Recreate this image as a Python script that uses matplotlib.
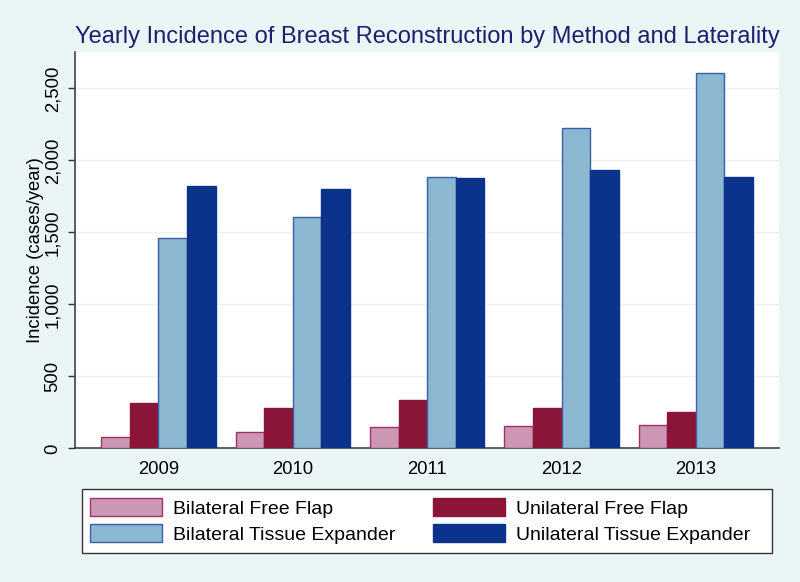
import numpy as np
import matplotlib.pyplot as plt
from matplotlib.ticker import FuncFormatter

plt.rcParams['font.family'] = ['Liberation Sans', 'DejaVu Sans']

years = ['2009', '2010', '2011', '2012', '2013']
series = ['Bilateral Free Flap', 'Unilateral Free Flap',
          'Bilateral Tissue Expander', 'Unilateral Tissue Expander']
bilat_flap = [82, 116, 147, 154, 162]
unilat_flap = [315, 278, 338, 278, 255]
bilat_te = [1462, 1608, 1884, 2222, 2610]
unilat_te = [1823, 1803, 1875, 1934, 1888]
values = [bilat_flap, unilat_flap, bilat_te, unilat_te]

fills = ['#CB97B4', '#8A1538', '#8BB7D0', '#0B338C']
edges = ['#A6305E', '#8A1538', '#3A5DA8', '#0B338C']

bg = '#EAF6F5'
fig = plt.figure(figsize=(8, 5.82), dpi=100, facecolor=bg)
ax = fig.add_axes([0.094, 0.2294, 0.880, 0.6813])
ax.set_facecolor('white')

x = np.arange(len(years))
w = 0.2125
bars = []
for i, (vals, fc, ec) in enumerate(zip(values, fills, edges)):
    b = ax.bar(x + (i - 1.5) * w, vals, width=w, color=fc, edgecolor=ec,
               linewidth=1.0, label=series[i], zorder=3)
    bars.append(b)

ax.set_xlim(-0.62, 4.62)
ax.set_ylim(0, 2753)
ax.set_yticks([0, 500, 1000, 1500, 2000, 2500])
ax.yaxis.set_major_formatter(FuncFormatter(lambda v, p: f'{int(v):,}'))
ax.set_xticks(x)
ax.set_xticklabels(years)
ax.tick_params(axis='x', length=0, pad=9, labelsize=13.3)
ax.tick_params(axis='y', length=5, width=1, color='#333333', pad=5,
               labelsize=13.3, labelrotation=90)
for lab in ax.get_yticklabels():
    lab.set_va('center')

ax.grid(axis='y', color='#E6F3F2', linewidth=0.9, zorder=0)
for s in ['top', 'right']:
    ax.spines[s].set_visible(False)
for s in ['left', 'bottom']:
    ax.spines[s].set_color('#333333')
    ax.spines[s].set_linewidth(1.1)

ax.set_ylabel('Incidence (cases/year)', fontsize=13.3, labelpad=0)

fig.text(0.534, 0.936, 'Yearly Incidence of Breast Reconstruction by Method and Laterality',
         ha='center', va='center', fontsize=17.0, color='#1A2270')

# legend box drawn separately so its width matches the reference
box = plt.Rectangle((0.1025, 0.0498), 0.8625, 0.1100, transform=fig.transFigure,
                    facecolor='white', edgecolor='#333333', linewidth=1.0, zorder=1)
fig.patches.append(box)

order = [0, 2, 1, 3]
leg = fig.legend([bars[i] for i in order], [series[i] for i in order],
                 loc='center left', bbox_to_anchor=(0.1025, 0.1048),
                 ncol=2, fontsize=14, frameon=False,
                 handlelength=3.7, handleheight=1.0,
                 borderaxespad=0, borderpad=0.4, labelspacing=0.35,
                 handletextpad=0.6, columnspacing=1.9)
leg.set_zorder(2)

fig.savefig('out.png', dpi=100, facecolor=bg)
